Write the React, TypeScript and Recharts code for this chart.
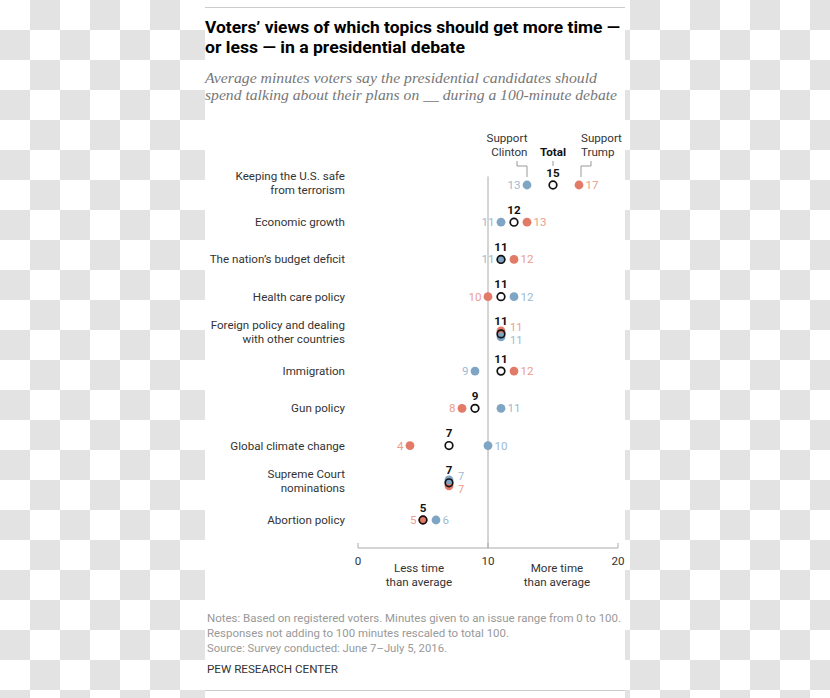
import React from 'react';
import { ComposedChart, Line, XAxis, YAxis, ReferenceLine } from 'recharts';

const topics = [
  'Keeping the U.S. safe\nfrom terrorism',
  'Economic growth',
  'The nation’s budget deficit',
  'Health care policy',
  'Foreign policy and dealing\nwith other countries',
  'Immigration',
  'Gun policy',
  'Global climate change',
  'Supreme Court\nnominations',
  'Abortion policy',
];
const totalMinutes = [15, 12, 11, 11, 11, 11, 9, 7, 7, 5];
const clintonMinutes = [13, 11, 11, 12, 11, 9, 11, 10, 7, 6];
const trumpMinutes = [17, 13, 12, 10, 11, 12, 8, 4, 7, 5];
const xTicks = [0, 10, 20];
// when all three values tie, which supporter group is drawn on top
const tieUpper: Record<string, 'clinton' | 'trump'> = {
  'Foreign policy and dealing\nwith other countries': 'trump',
  'Supreme Court\nnominations': 'clinton',
};

const notes = [
  'Notes: Based on registered voters. Minutes given to an issue range from 0 to 100.',
  'Responses not adding to 100 minutes rescaled to total 100.',
  'Source: Survey conducted: June 7–July 5, 2016.',
];

const data = topics.map((topic, i) => ({
  topic,
  total: totalMinutes[i],
  clinton: clintonMinutes[i],
  trump: trumpMinutes[i],
}));

const FONT = 'Roboto, "Liberation Sans", Arial, sans-serif';
const COLORS = {
  clinton: '#7fa5c4',
  clintonText: '#9dbad2',
  trump: '#e27a68',
  trumpText: '#eb9d8f',
  text: '#333',
  axis: '#aaa',
};

const CategoryTick = (props: any) => {
  const { x, y, payload } = props;
  const lines = String(payload.value).split('\n');
  const first = lines.length === 1 ? y + 4 : y - 5;
  return (
    <text x={x} y={first} textAnchor="end" fontFamily={FONT} fontSize={11.6} fill={COLORS.text}>
      {lines.map((l, i) => (
        <tspan key={i} x={x} dy={i === 0 ? 0 : 14}>
          {l}
        </tspan>
      ))}
    </text>
  );
};

const ValueTick = (props: any) => {
  const { x, y, payload } = props;
  return (
    <text x={x} y={y + 22} textAnchor="middle" fontFamily={FONT} fontSize={11.6} fill={COLORS.text}>
      {payload.value}
    </text>
  );
};

const makeGroupDot = (key: 'clinton' | 'trump') => (props: any) => {
  const { cx, cy, payload, index } = props;
  if (cx == null || cy == null) return <g key={`${key}-${index}`} />;
  const v = payload[key];
  const t = payload.total;
  const other = payload[key === 'clinton' ? 'trump' : 'clinton'];
  const fill = COLORS[key];
  const textFill = key === 'clinton' ? COLORS.clintonText : COLORS.trumpText;
  let dy = 0;
  let lx = cx;
  let ly = cy + 4;
  let anchor: 'start' | 'end' = 'start';
  let size = 11.6;
  if (v === t && other === t) {
    const upper = tieUpper[payload.topic] === key;
    dy = upper ? -3 : 3;
    lx = cx + 9;
    ly = upper ? cy - 3 : cy + 10.5;
    size = 11;
  } else {
    const left = v < t || (v === t && other > t);
    anchor = left ? 'end' : 'start';
    lx = left ? cx - 6.5 : cx + 6.5;
  }
  return (
    <g key={`${key}-${index}`}>
      <circle cx={cx} cy={cy + dy} r={4.4} fill={fill} />
      <text x={lx} y={ly} textAnchor={anchor} fontFamily={FONT} fontSize={size} fill={textFill}>
        {v}
      </text>
      {index === 0 && key === 'clinton' && (
        <g>
          <text x={cx + 0.5} y={cy - 43} textAnchor="end" fontFamily={FONT} fontSize={11.6} fill={COLORS.text}>
            Support
          </text>
          <text x={cx + 0.5} y={cy - 29} textAnchor="end" fontFamily={FONT} fontSize={11.6} fill={COLORS.text}>
            Clinton
          </text>
          <path d={`M${cx - 10},${cy - 24} V${cy - 19} H${cx} V${cy - 8}`} fill="none" stroke="#999" strokeWidth={1} />
        </g>
      )}
      {index === 0 && key === 'trump' && (
        <g>
          <text x={cx + 2} y={cy - 43} textAnchor="start" fontFamily={FONT} fontSize={11.6} fill={COLORS.text}>
            Support
          </text>
          <text x={cx + 2} y={cy - 29} textAnchor="start" fontFamily={FONT} fontSize={11.6} fill={COLORS.text}>
            Trump
          </text>
          <path d={`M${cx + 12},${cy - 24} V${cy - 19} H${cx + 2} V${cy - 8}`} fill="none" stroke="#999" strokeWidth={1} />
        </g>
      )}
    </g>
  );
};

const TotalDot = (props: any) => {
  const { cx, cy, payload, index } = props;
  if (cx == null || cy == null) return <g key={`total-${index}`} />;
  return (
    <g key={`total-${index}`}>
      <circle cx={cx} cy={cy} r={3.8} fill="none" stroke="#111" strokeWidth={1.7} />
      <text x={cx} y={cy - 8.5} textAnchor="middle" fontFamily={FONT} fontSize={11.6} fontWeight={700} fill="#111">
        {payload.total}
      </text>
      {index === 0 && (
        <g>
          <text x={cx} y={cy - 29} textAnchor="middle" fontFamily={FONT} fontSize={11.6} fontWeight={700} fill="#111">
            Total
          </text>
          <line x1={cx} x2={cx} y1={cy - 24} y2={cy - 19} stroke="#999" />
        </g>
      )}
    </g>
  );
};

const AverageLine = (props: any) => {
  const { x1, x2, y1, y2 } = props;
  const top = Math.min(y1, y2);
  const bottom = Math.max(y1, y2);
  return <line x1={x1} x2={x2} y1={top + 10} y2={bottom} stroke={COLORS.axis} strokeWidth={1} />;
};

export default function App() {
  return (
    <div
      style={{
        position: 'absolute',
        left: 0,
        top: 0,
        width: 830,
        height: 698,
        overflow: 'hidden',
        backgroundColor: '#fff',
        backgroundImage: 'repeating-conic-gradient(#e3e3e3 0% 25%, #ffffff 0% 50%)',
        backgroundSize: '60px 60px',
      }}
    >
      <div style={{ position: 'absolute', left: 205, top: 0, width: 420, height: 698, background: '#fff' }} />
      <svg width={830} height={698} style={{ position: 'absolute', left: 0, top: 0 }}>
        <line x1={205} x2={625} y1={7.5} y2={7.5} stroke="#ccc" />
        <line x1={205} x2={625} y1={690.5} y2={690.5} stroke="#ccc" />
        <text x={205} y={33} fontFamily={FONT} fontSize={17} fontWeight={700} fill="#000" textLength={415} lengthAdjust="spacingAndGlyphs">
          Voters’ views of which topics should get more time —
        </text>
        <text x={205} y={53} fontFamily={FONT} fontSize={17} fontWeight={700} fill="#000" textLength={260} lengthAdjust="spacingAndGlyphs">
          or less — in a presidential debate
        </text>
        <text x={205} y={83} fontFamily='"Liberation Serif", serif' fontStyle="italic" fontSize={15} fill="#777" textLength={392} lengthAdjust="spacingAndGlyphs">
          Average minutes voters say the presidential candidates should
        </text>
        <text x={205} y={100} fontFamily='"Liberation Serif", serif' fontStyle="italic" fontSize={15} fill="#777" textLength={412} lengthAdjust="spacingAndGlyphs">
          spend talking about their plans on __ during a 100-minute debate
        </text>
        <text x={419} y={572} textAnchor="middle" fontFamily={FONT} fontSize={11.6} fill={COLORS.text}>
          Less time
        </text>
        <text x={419} y={586} textAnchor="middle" fontFamily={FONT} fontSize={11.6} fill={COLORS.text}>
          than average
        </text>
        <text x={557} y={572} textAnchor="middle" fontFamily={FONT} fontSize={11.6} fill={COLORS.text}>
          More time
        </text>
        <text x={557} y={586} textAnchor="middle" fontFamily={FONT} fontSize={11.6} fill={COLORS.text}>
          than average
        </text>
        {notes.map((n, i) => (
          <text
            key={i}
            x={207}
            y={622 + i * 15}
            fontFamily={FONT}
            fontSize={11.2}
            fill="#999"
            textLength={[414, 302, 240][i]}
            lengthAdjust="spacingAndGlyphs"
          >
            {n}
          </text>
        ))}
        <text x={207} y={673} fontFamily={FONT} fontSize={11.2} fill={COLORS.text} textLength={131} lengthAdjust="spacingAndGlyphs">
          PEW RESEARCH CENTER
        </text>
      </svg>
      <div style={{ position: 'absolute', left: 0, top: 0 }}>
        <ComposedChart
          width={830}
          height={698}
          data={data}
          layout="vertical"
          margin={{ top: 166.4, right: 212, bottom: 120, left: 0 }}
        >
          <XAxis
            type="number"
            domain={[0, 20]}
            ticks={xTicks}
            height={30}
            stroke={COLORS.axis}
            tickSize={-5}
            tickMargin={0}
            tick={<ValueTick />}
          />
          <YAxis
            type="category"
            dataKey="topic"
            width={358}
            axisLine={false}
            tickLine={false}
            tickSize={0}
            tickMargin={13}
            padding={{ top: 18.6, bottom: 28 }}
            interval={0}
            tick={<CategoryTick />}
          />
          <ReferenceLine x={10} stroke={COLORS.axis} shape={<AverageLine />} />
          <Line dataKey="trump" stroke="none" dot={makeGroupDot('trump')} activeDot={false} isAnimationActive={false} />
          <Line dataKey="clinton" stroke="none" dot={makeGroupDot('clinton')} activeDot={false} isAnimationActive={false} />
          <Line dataKey="total" stroke="none" dot={TotalDot} activeDot={false} isAnimationActive={false} />
        </ComposedChart>
      </div>
    </div>
  );
}
